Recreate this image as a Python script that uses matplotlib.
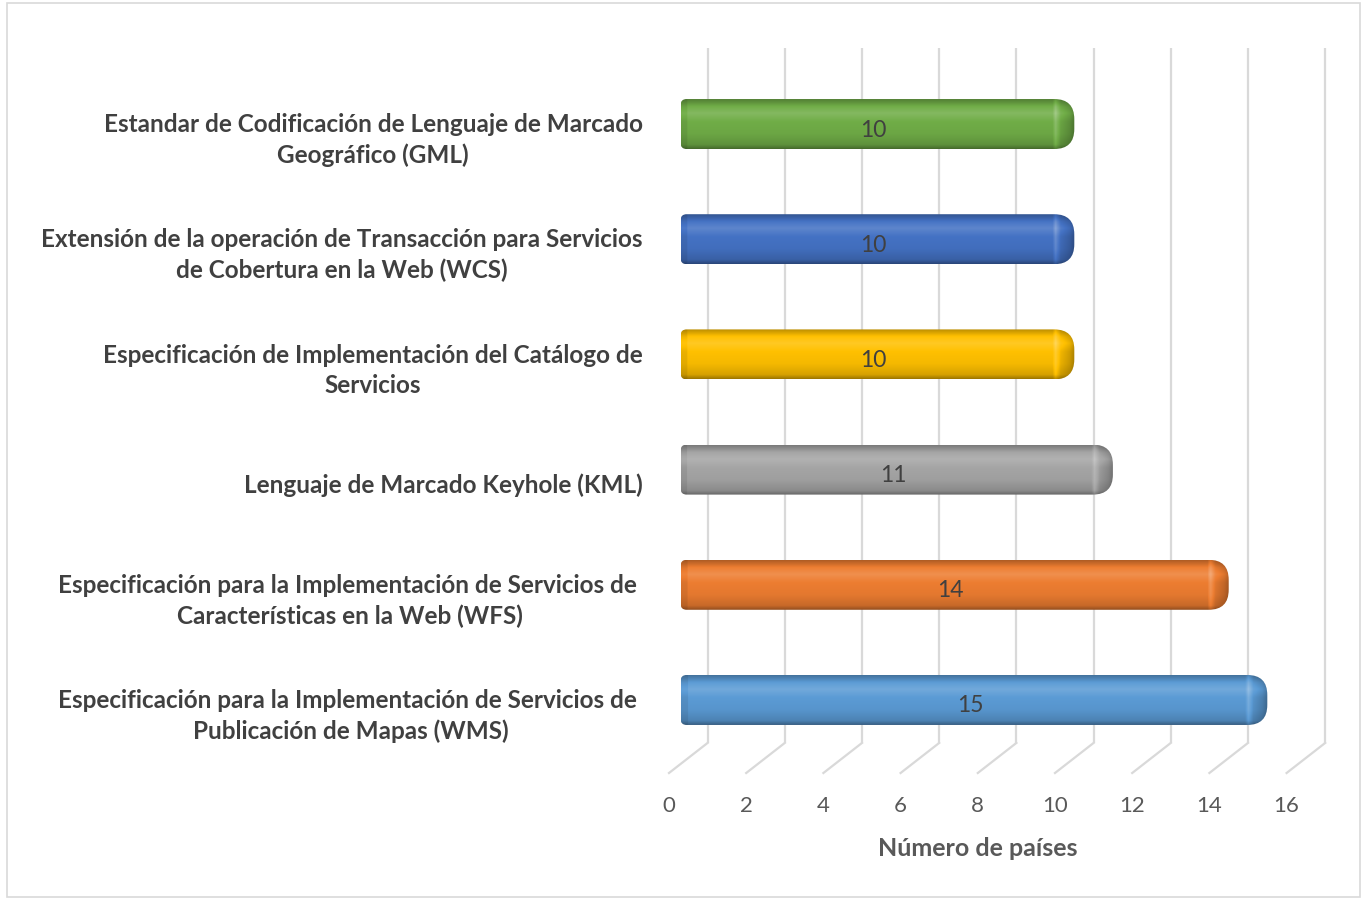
import numpy as np
import matplotlib.pyplot as plt
from matplotlib.path import Path
from matplotlib.patches import PathPatch, Rectangle
from matplotlib.colors import to_rgb

# data (bottom to top, as drawn)
labels = [
    "Especificación para la Implementación de Servicios de \nPublicación de Mapas (WMS)",
    "Especificación para la Implementación de Servicios de \nCaracterísticas en la Web (WFS)",
    "Lenguaje de Marcado Keyhole (KML)",
    "Especificación de Implementación del Catálogo de\nServicios",
    "Extensión de la operación de Transacción para Servicios\nde Cobertura en la Web (WCS)",
    "Estandar de Codificación de Lenguaje de Marcado\nGeográfico (GML)",
]
values = [15, 14, 11, 10, 10, 10]
colors = ["#5B9BD5", "#ED7D31", "#A5A5A5", "#FFC000", "#4472C4", "#70AD47"]
xticks = [0, 2, 4, 6, 8, 10, 12, 14, 16]
xlabel = "Número de países"

plt.rcParams['font.family'] = ['Lato', 'DejaVu Sans']

fig = plt.figure(figsize=(13.62, 9.0), dpi=100)
# pixel scale: 38.6 px per x unit, 115.2 px per category
ax = fig.add_axes([669 / 1362, 127 / 900, 656.2 / 1362, 725 / 900])
ax.set_xlim(-0.5, 16.5)
ax.set_ylim(-0.634, 5.66)
ax.axis('off')

depth = 0.5        # half depth of the 3d box, in x units
floor_back = -0.373
floor_front = -0.634
grid_col = '#D9D9D9'

# back wall gridlines + floor diagonals
for v in xticks:
    ax.plot([v + depth, v + depth], [floor_back, 5.66], color=grid_col, lw=1.6,
            zorder=1, clip_on=False, solid_capstyle='butt')
    ax.plot([v + depth, v - depth], [floor_back, floor_front], color=grid_col, lw=1.6,
            zorder=1, clip_on=False)
    ax.text(v - depth, -0.92, str(v), ha='center', va='center', fontsize=16,
            color='#595959')

ax.text(8 - depth, -1.29, xlabel, ha='center', va='center', fontsize=18,
        fontweight='bold', color='#595959')


def shade(c, f):
    c = np.asarray(c)
    if f >= 1:
        return c + (1 - c) * (f - 1)
    return c * f


def bar_path(x0, x1, yc, h, rl, rr):
    # rl, rr given in pixels, converted per axis
    sx, sy = 38.6, 115.2
    y0, y1 = yc - h / 2, yc + h / 2
    rlx, rly = rl / sx, rl / sy
    rrx, rry = rr / sx, rr / sy
    verts = [
        (x0 + rlx, y0), (x1 - rrx, y0),
        (x1, y0), (x1, y0 + rry),
        (x1, y1 - rry),
        (x1, y1), (x1 - rrx, y1),
        (x0 + rlx, y1),
        (x0, y1), (x0, y1 - rly),
        (x0, y0 + rly),
        (x0, y0), (x0 + rlx, y0),
        (x0 + rlx, y0),
    ]
    codes = [Path.MOVETO, Path.LINETO,
             Path.CURVE3, Path.CURVE3,
             Path.LINETO,
             Path.CURVE3, Path.CURVE3,
             Path.LINETO,
             Path.CURVE3, Path.CURVE3,
             Path.LINETO,
             Path.CURVE3, Path.CURVE3,
             Path.CLOSEPOLY]
    return Path(verts, codes)


bar_h = 50 / 115.2
x_start = -0.2
ny, nx = 60, 500
tv = np.linspace(0, 1, ny)
vert_prof = np.interp(tv, [0, 0.08, 0.3, 0.55, 0.72, 0.85, 1.0],
                      [0.62, 0.84, 0.96, 1.0, 1.14, 1.02, 0.74])

for i, (val, col, lab) in enumerate(zip(values, colors, labels)):
    base = np.array(to_rgb(col))
    x0, x1 = x_start, val
    xs = np.linspace(x0, x1, nx)
    dist = (x1 - xs) * 38.6   # px from right end
    hor = np.ones(nx)
    cap = dist < 22
    hor[cap] = np.interp(dist[cap], [0, 5, 14, 19, 22], [0.68, 0.82, 0.95, 1.2, 1.0])
    left = (xs - x0) * 38.6 < 6
    hor[left] = hor[left] * 0.92
    img = np.zeros((ny, nx, 3))
    for r in range(ny):
        for c in range(nx):
            img[r, c] = np.clip(shade(base, vert_prof[r] * hor[c]), 0, 1)
    p = PathPatch(bar_path(x0, x1, i, bar_h, 6, 20), facecolor='none',
                  edgecolor='none', zorder=3)
    ax.add_patch(p)
    im = ax.imshow(img, extent=[x0, x1, i - bar_h / 2, i + bar_h / 2],
                   origin='lower', aspect='auto', zorder=3, interpolation='bilinear')
    im.set_clip_path(p)

    ax.text((x0 + x1) / 2 - 0.1, i - 6 / 115.2, str(val), ha='center', va='center',
            fontsize=16.5, color='#404040', zorder=4)

    ax.text(-1.18, i - 16 / 115.2, lab, ha='right', va='center',
            multialignment='center', fontsize=17.5, fontweight='bold',
            color='#404040', linespacing=1.38)

ax.set_xlim(-0.5, 16.5)
ax.set_ylim(-0.634, 5.66)

fig.patches.append(Rectangle((7 / 1362, 3 / 900), 1353 / 1362, 894 / 900,
                             transform=fig.transFigure, fill=False,
                             edgecolor='#D9D9D9', lw=1.2))

fig.savefig('out.png', dpi=100)
